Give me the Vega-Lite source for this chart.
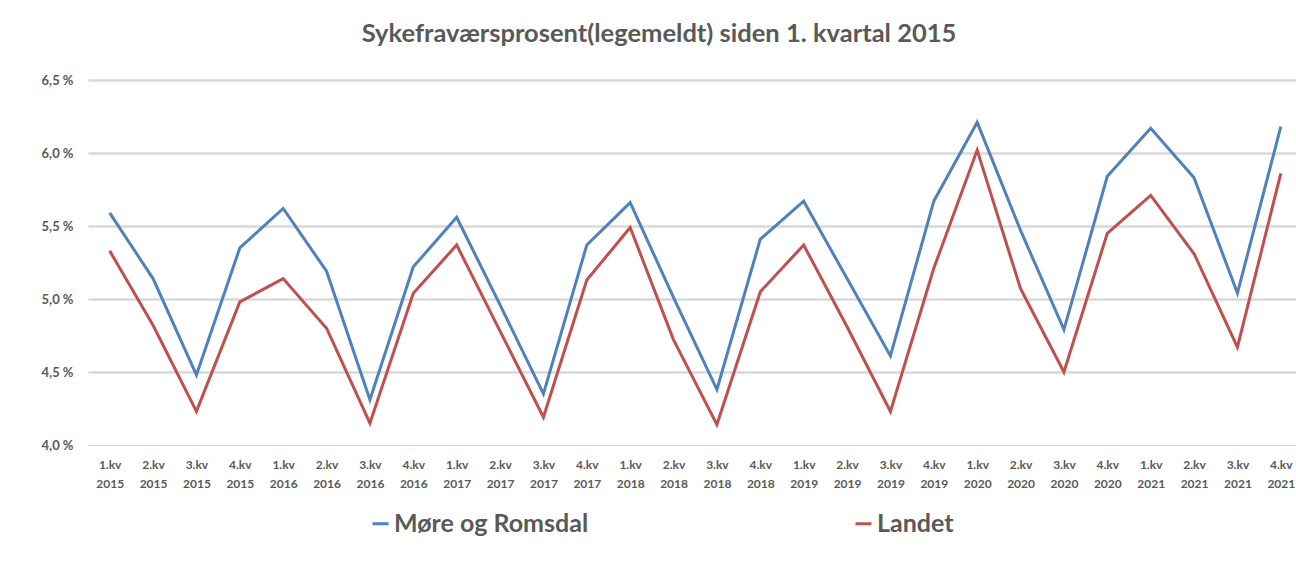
{
  "$schema": "https://vega.github.io/schema/vega-lite/v6.json",
  "width": 1208,
  "height": 365,
  "autosize": {"type": "none"},
  "padding": {"left": 88, "top": 80, "right": 0, "bottom": 121},
  "background": "white",
  "title": {
    "text": "Sykefraværsprosent(legemeldt) siden 1. kvartal 2015",
    "font": "Lato",
    "fontSize": 25.5,
    "fontWeight": "bold",
    "color": "#595959",
    "anchor": "middle",
    "baseline": "alphabetic",
    "dx": -33,
    "offset": 7
  },
  "data": {
    "values": [
      {"kvartal": "1.kv 2015", "serie": "Møre og Romsdal", "verdi": 5.59},
      {"kvartal": "2.kv 2015", "serie": "Møre og Romsdal", "verdi": 5.14},
      {"kvartal": "3.kv 2015", "serie": "Møre og Romsdal", "verdi": 4.48},
      {"kvartal": "4.kv 2015", "serie": "Møre og Romsdal", "verdi": 5.35},
      {"kvartal": "1.kv 2016", "serie": "Møre og Romsdal", "verdi": 5.62},
      {"kvartal": "2.kv 2016", "serie": "Møre og Romsdal", "verdi": 5.19},
      {"kvartal": "3.kv 2016", "serie": "Møre og Romsdal", "verdi": 4.31},
      {"kvartal": "4.kv 2016", "serie": "Møre og Romsdal", "verdi": 5.22},
      {"kvartal": "1.kv 2017", "serie": "Møre og Romsdal", "verdi": 5.56},
      {"kvartal": "2.kv 2017", "serie": "Møre og Romsdal", "verdi": 4.96},
      {"kvartal": "3.kv 2017", "serie": "Møre og Romsdal", "verdi": 4.35},
      {"kvartal": "4.kv 2017", "serie": "Møre og Romsdal", "verdi": 5.37},
      {"kvartal": "1.kv 2018", "serie": "Møre og Romsdal", "verdi": 5.66},
      {"kvartal": "2.kv 2018", "serie": "Møre og Romsdal", "verdi": 5.01},
      {"kvartal": "3.kv 2018", "serie": "Møre og Romsdal", "verdi": 4.38},
      {"kvartal": "4.kv 2018", "serie": "Møre og Romsdal", "verdi": 5.41},
      {"kvartal": "1.kv 2019", "serie": "Møre og Romsdal", "verdi": 5.67},
      {"kvartal": "2.kv 2019", "serie": "Møre og Romsdal", "verdi": 5.14},
      {"kvartal": "3.kv 2019", "serie": "Møre og Romsdal", "verdi": 4.61},
      {"kvartal": "4.kv 2019", "serie": "Møre og Romsdal", "verdi": 5.67},
      {"kvartal": "1.kv 2020", "serie": "Møre og Romsdal", "verdi": 6.21},
      {"kvartal": "2.kv 2020", "serie": "Møre og Romsdal", "verdi": 5.47},
      {"kvartal": "3.kv 2020", "serie": "Møre og Romsdal", "verdi": 4.79},
      {"kvartal": "4.kv 2020", "serie": "Møre og Romsdal", "verdi": 5.84},
      {"kvartal": "1.kv 2021", "serie": "Møre og Romsdal", "verdi": 6.17},
      {"kvartal": "2.kv 2021", "serie": "Møre og Romsdal", "verdi": 5.83},
      {"kvartal": "3.kv 2021", "serie": "Møre og Romsdal", "verdi": 5.04},
      {"kvartal": "4.kv 2021", "serie": "Møre og Romsdal", "verdi": 6.18},
      {"kvartal": "1.kv 2015", "serie": "Landet", "verdi": 5.33},
      {"kvartal": "2.kv 2015", "serie": "Landet", "verdi": 4.82},
      {"kvartal": "3.kv 2015", "serie": "Landet", "verdi": 4.23},
      {"kvartal": "4.kv 2015", "serie": "Landet", "verdi": 4.98},
      {"kvartal": "1.kv 2016", "serie": "Landet", "verdi": 5.14},
      {"kvartal": "2.kv 2016", "serie": "Landet", "verdi": 4.80},
      {"kvartal": "3.kv 2016", "serie": "Landet", "verdi": 4.15},
      {"kvartal": "4.kv 2016", "serie": "Landet", "verdi": 5.04},
      {"kvartal": "1.kv 2017", "serie": "Landet", "verdi": 5.37},
      {"kvartal": "2.kv 2017", "serie": "Landet", "verdi": 4.78},
      {"kvartal": "3.kv 2017", "serie": "Landet", "verdi": 4.19},
      {"kvartal": "4.kv 2017", "serie": "Landet", "verdi": 5.13},
      {"kvartal": "1.kv 2018", "serie": "Landet", "verdi": 5.49},
      {"kvartal": "2.kv 2018", "serie": "Landet", "verdi": 4.72},
      {"kvartal": "3.kv 2018", "serie": "Landet", "verdi": 4.14},
      {"kvartal": "4.kv 2018", "serie": "Landet", "verdi": 5.05},
      {"kvartal": "1.kv 2019", "serie": "Landet", "verdi": 5.37},
      {"kvartal": "2.kv 2019", "serie": "Landet", "verdi": 4.81},
      {"kvartal": "3.kv 2019", "serie": "Landet", "verdi": 4.23},
      {"kvartal": "4.kv 2019", "serie": "Landet", "verdi": 5.21},
      {"kvartal": "1.kv 2020", "serie": "Landet", "verdi": 6.02},
      {"kvartal": "2.kv 2020", "serie": "Landet", "verdi": 5.07},
      {"kvartal": "3.kv 2020", "serie": "Landet", "verdi": 4.50},
      {"kvartal": "4.kv 2020", "serie": "Landet", "verdi": 5.45},
      {"kvartal": "1.kv 2021", "serie": "Landet", "verdi": 5.71},
      {"kvartal": "2.kv 2021", "serie": "Landet", "verdi": 5.31},
      {"kvartal": "3.kv 2021", "serie": "Landet", "verdi": 4.67},
      {"kvartal": "4.kv 2021", "serie": "Landet", "verdi": 5.86}
    ]
  },
  "mark": {"type": "line", "strokeWidth": 3},
  "encoding": {
    "x": {
      "field": "kvartal",
      "type": "ordinal",
      "sort": null,
      "scale": {"type": "point", "padding": 0.425, "align": 0.588},
      "axis": {
        "title": null,
        "labelAngle": 0,
        "labelExpr": "split(datum.label, ' ')",
        "labelFont": "Lato",
        "labelFontSize": 12,
        "labelFontWeight": "bold",
        "labelColor": "#595959",
        "labelLineHeight": 19,
        "labelBaseline": "top",
        "labelPadding": 14,
        "ticks": false,
        "grid": false,
        "domain": true,
        "domainColor": "#d9d9d9",
        "domainWidth": 1
      }
    },
    "y": {
      "field": "verdi",
      "type": "quantitative",
      "scale": {"domain": [4, 6.5], "nice": false, "zero": false},
      "axis": {
        "title": null,
        "values": [4, 4.5, 5, 5.5, 6, 6.5],
        "labelExpr": "replace(format(datum.value, '.1f'), '.', ',') + ' %'",
        "labelFont": "Lato",
        "labelFontSize": 13,
        "labelFontWeight": "bold",
        "labelColor": "#595959",
        "labelPadding": 15,
        "ticks": false,
        "domain": false,
        "grid": true,
        "gridColor": "#d9d9d9",
        "gridWidth": {"condition": {"test": "datum.value === 4", "value": 0}, "value": 2.5}
      }
    },
    "color": {
      "field": "serie",
      "type": "nominal",
      "sort": ["Møre og Romsdal", "Landet"],
      "scale": {"domain": ["Møre og Romsdal", "Landet"], "range": ["#4F81BD", "#C0504D"]},
      "legend": {
        "title": null,
        "orient": "none",
        "legendX": 280,
        "legendY": 431,
        "direction": "horizontal",
        "columnPadding": 260,
        "symbolType": "stroke",
        "symbolSize": 256,
        "symbolStrokeWidth": 3,
        "labelFont": "Lato",
        "labelFontSize": 25,
        "labelFontWeight": "bold",
        "labelColor": "#595959",
        "labelOffset": 1,
        "labelLimit": 400
      }
    }
  },
  "config": {"view": {"stroke": null}}
}
